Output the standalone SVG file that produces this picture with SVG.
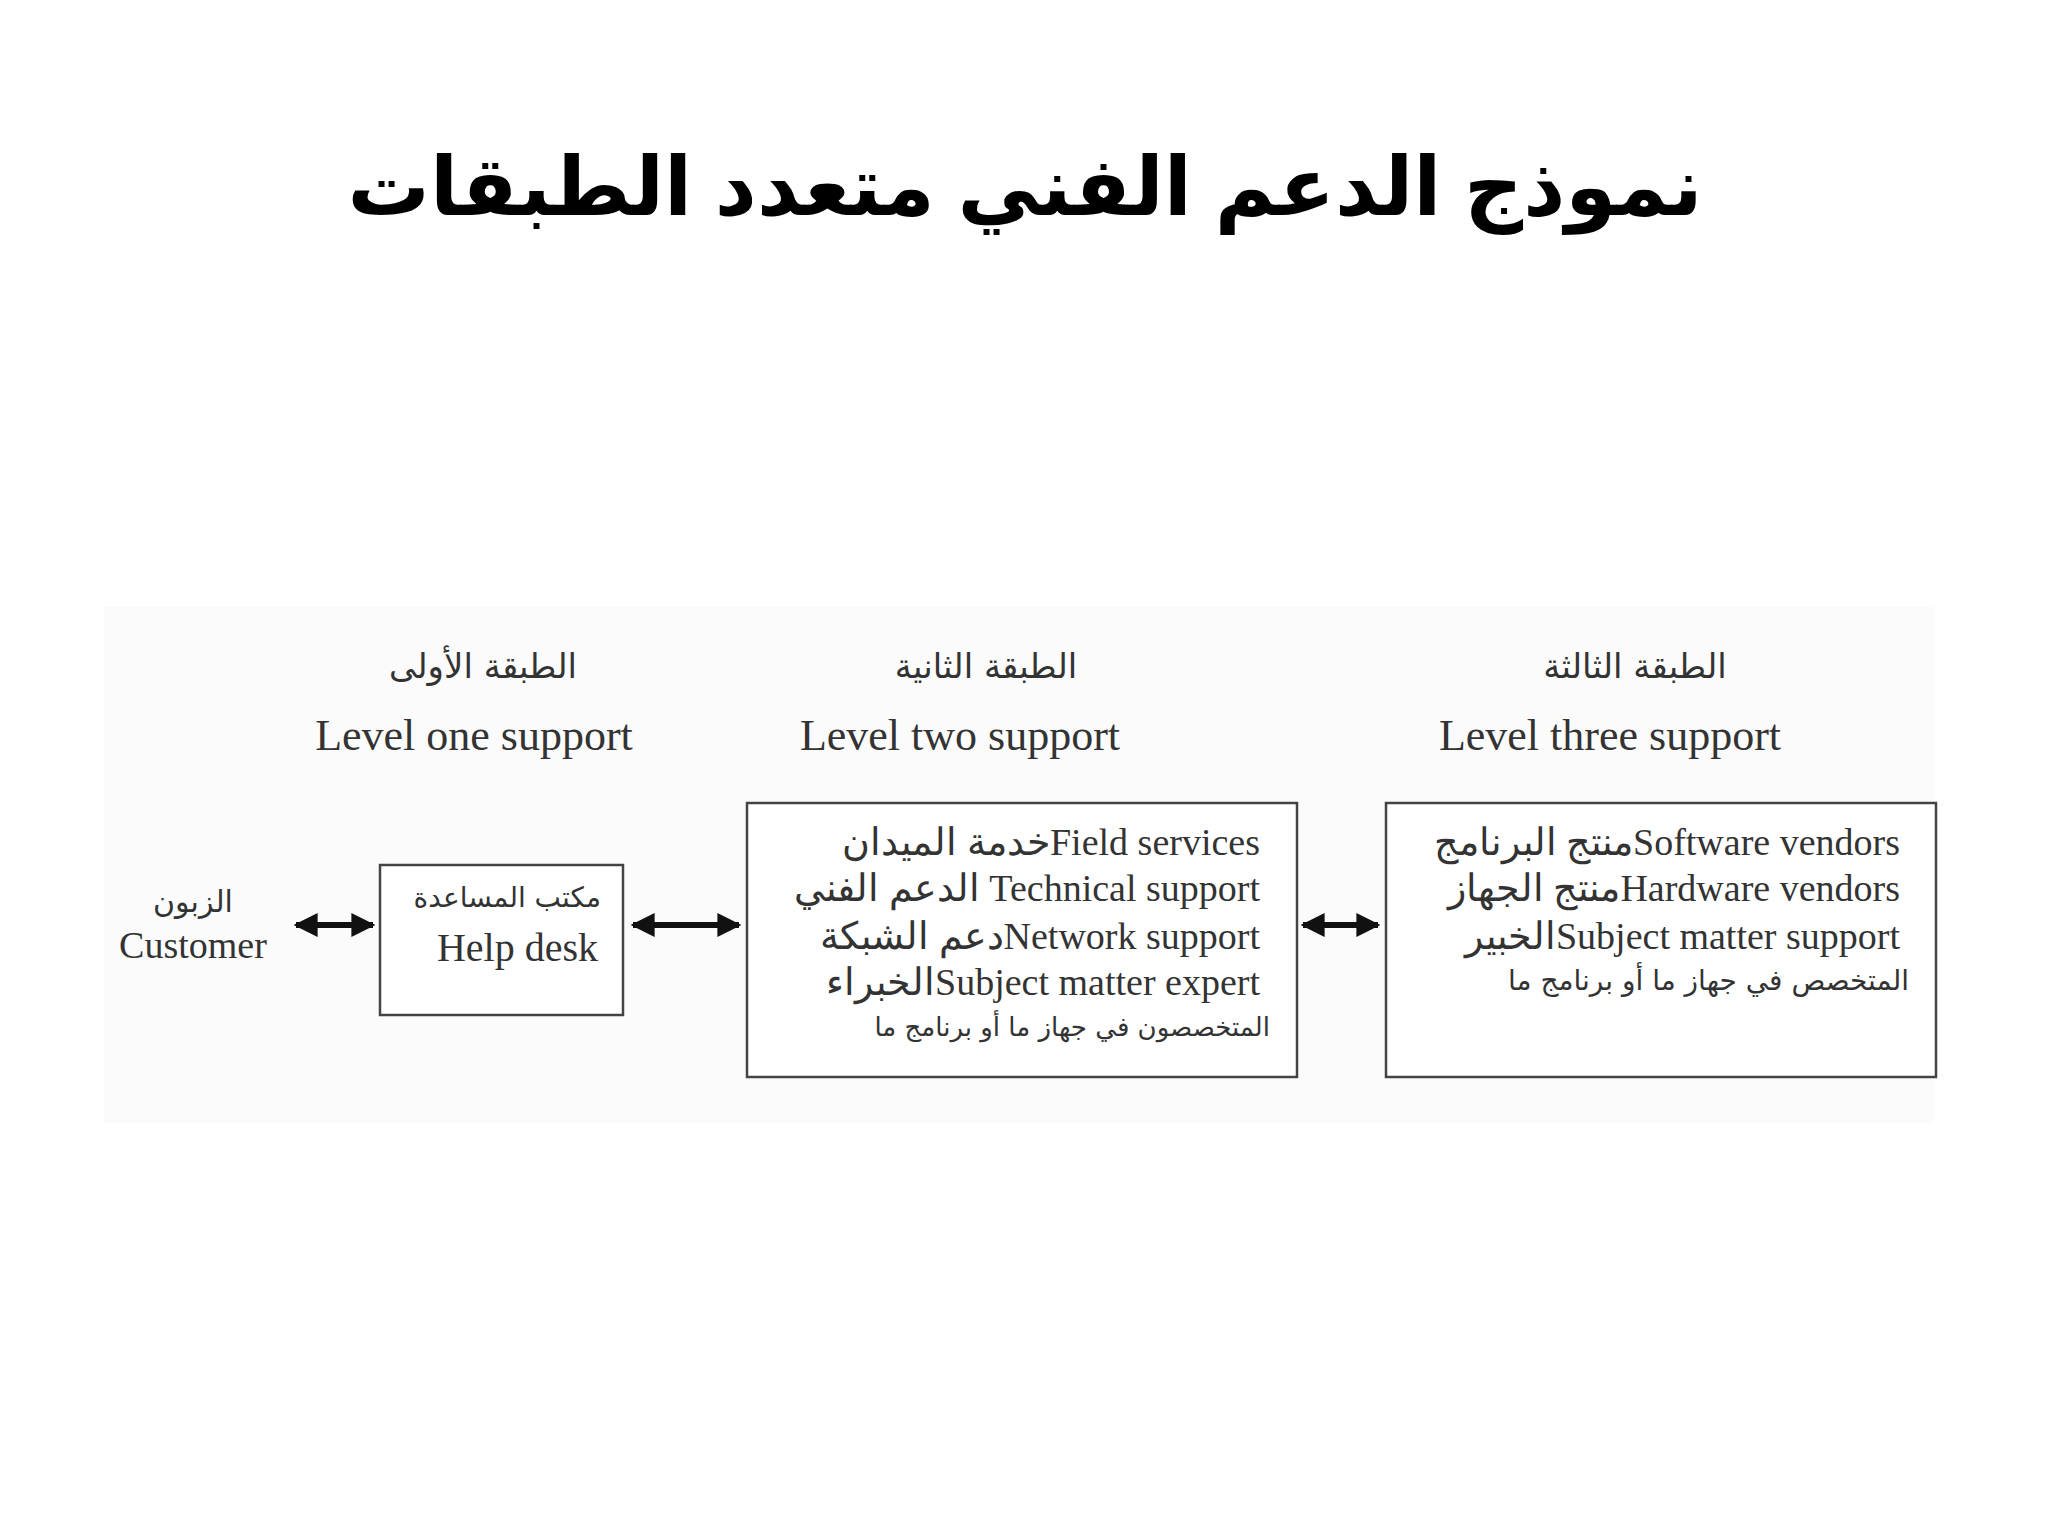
<svg xmlns="http://www.w3.org/2000/svg" width="2048" height="1536" viewBox="0 0 2048 1536">
<style>
.en{font-family:"Liberation Serif",serif;fill:#333;}
.ar{font-family:"DejaVu Sans","Noto Sans",sans-serif;fill:#333;}
.box{fill:#fff;stroke:#444;stroke-width:2.5;}
.con{stroke:#111;stroke-width:6;marker-start:url(#ah);marker-end:url(#ah);}
</style>
<defs>
<marker id="ah" viewBox="0 0 10 10" refX="9" refY="5" markerWidth="4" markerHeight="4" orient="auto-start-reverse" markerUnits="strokeWidth">
<path d="M0,0 L10,5 L0,10 Z" fill="#111"/>
</marker>
</defs>
<rect width="2048" height="1536" fill="#fff"/>
<text x="1025" y="215" text-anchor="middle" font-family="'Liberation Sans','DejaVu Sans',sans-serif" font-weight="bold" font-size="82" fill="#000">نموذج الدعم الفني متعدد الطبقات</text>
<rect x="104" y="607" width="1830" height="516" fill="#fbfbfb"/>
<g id="headers">
<text class="ar" x="483" y="678" text-anchor="middle" font-size="34">الطبقة الأولى</text>
<text class="en" x="474" y="750" text-anchor="middle" font-size="44">Level one support</text>
<text class="ar" x="986" y="678" text-anchor="middle" font-size="34">الطبقة الثانية</text>
<text class="en" x="960" y="750" text-anchor="middle" font-size="44">Level two support</text>
<text class="ar" x="1635" y="678" text-anchor="middle" font-size="34">الطبقة الثالثة</text>
<text class="en" x="1610" y="750" text-anchor="middle" font-size="44">Level three support</text>
</g>
<g id="customer">
<text class="ar" x="193" y="912" text-anchor="middle" font-size="30">الزبون</text>
<text class="en" x="193" y="958" text-anchor="middle" font-size="38">Customer</text>
</g>
<g id="helpdesk">
<rect class="box" x="380" y="865" width="243" height="150"/>
<text class="ar" x="601" y="907" text-anchor="end" font-size="28">مكتب المساعدة</text>
<text class="en" x="598" y="961" text-anchor="end" font-size="40">Help desk</text>
</g>
<g id="level2">
<rect class="box" x="747" y="803" width="550" height="274"/>
<g class="en" font-size="38" text-anchor="end">
<text x="1260" y="855">خدمة الميدانField services</text>
<text x="1260" y="901">الدعم الفني Technical support</text>
<text x="1260" y="949">دعم الشبكةNetwork support</text>
<text x="1260" y="995">الخبراءSubject matter expert</text>
</g>
<text class="ar" x="1270" y="1036" text-anchor="end" font-size="26">المتخصصون في جهاز ما أو برنامج ما</text>
</g>
<g id="level3">
<rect class="box" x="1386" y="803" width="550" height="274"/>
<g class="en" font-size="38" text-anchor="end">
<text x="1900" y="855">منتج البرنامجSoftware vendors</text>
<text x="1900" y="901">منتج الجهازHardware vendors</text>
<text x="1900" y="949">الخبيرSubject matter support</text>
</g>
<text class="ar" x="1909" y="990" text-anchor="end" font-size="28">المتخصص في جهاز ما أو برنامج ما</text>
</g>
<g id="connectors">
<line class="con" x1="296" y1="925" x2="373" y2="925"/>
<line class="con" x1="633" y1="925" x2="739" y2="925"/>
<line class="con" x1="1303" y1="925" x2="1378" y2="925"/>
</g>
</svg>
